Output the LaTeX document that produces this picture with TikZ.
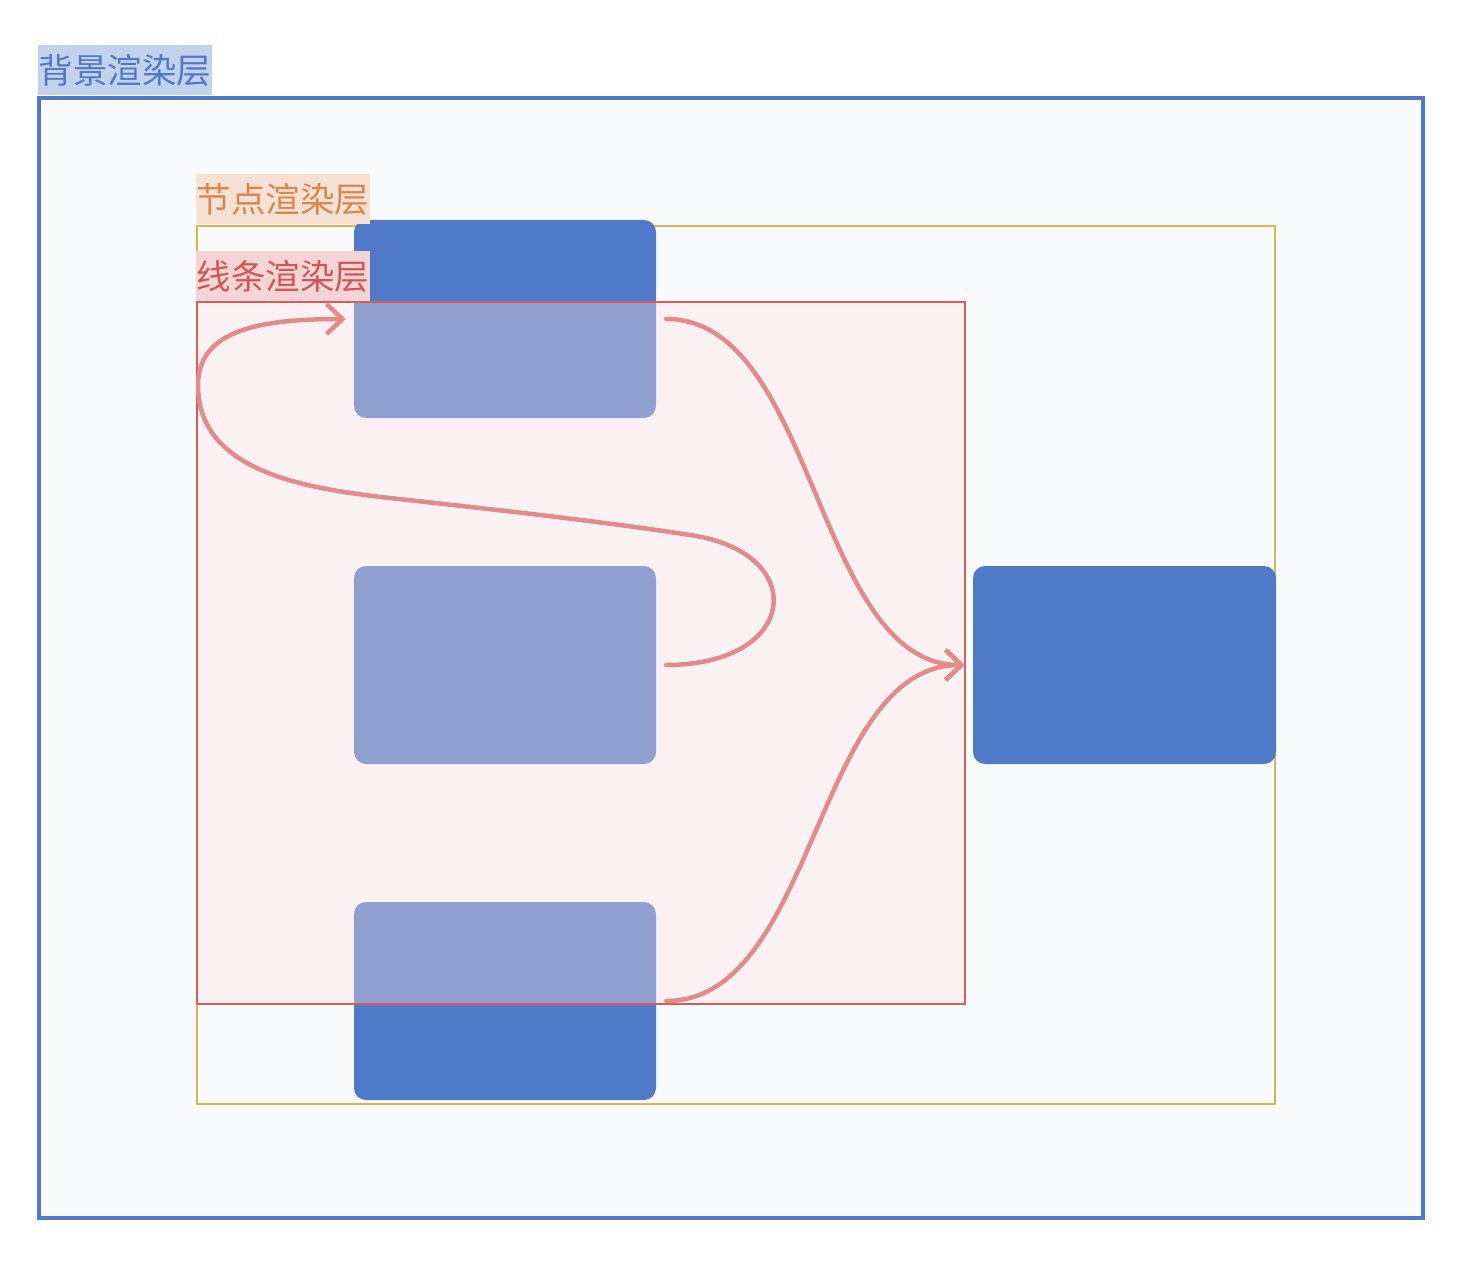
\documentclass[tikz,border=0pt]{standalone}
\usepackage{fontspec}
\newfontfamily\cjk{Noto Sans CJK SC}
\usetikzlibrary{arrows.meta,calc}
\definecolor{nblue}{RGB}{80,121,199}
\definecolor{bgfill}{RGB}{249,250,252}
\definecolor{bluelab}{RGB}{195,210,236}
\definecolor{yel}{RGB}{214,182,86}
\definecolor{orlab}{RGB}{244,225,211}
\definecolor{ortext}{RGB}{217,135,75}
\definecolor{redline}{RGB}{217,91,91}
\definecolor{redlab}{RGB}{244,213,214}
\definecolor{redtext}{RGB}{212,85,85}
\definecolor{redover}{RGB}{255,228,228}
\definecolor{curve}{RGB}{227,138,138}
\tikzset{
  blk/.style={fill=nblue, draw=none, rounded corners=12pt, minimum width=302pt, minimum height=198pt, inner sep=0pt},
  lab/.style={anchor=north west, inner sep=0pt, minimum width=174pt, minimum height=50pt, font=\cjk\fontsize{34.5}{34.5}\selectfont},
  flow/.style={draw=curve, line width=4.5pt, line cap=round, line join=round, -{Straight Barb[length=16pt,width=30pt,line width=4.5pt]}}
}
\begin{document}
\begin{tikzpicture}[x=1pt,y=-1pt]
\useasboundingbox (0,0) rectangle (1470,1268);
% background layer
\draw[nblue, line width=4.5pt, fill=bgfill] (39,98) rectangle (1423,1218);
\node[lab, fill=bluelab, text=nblue] (lbg) at (38,45) {背景渲染层};
% node layer
\draw[yel, line width=2.5pt] (197,226) rectangle (1275,1104);
\node[blk] (n1) at (505,319) {};
\node[blk] (n2) at (505,665) {};
\node[blk] (n3) at (505,1001) {};
\node[blk, minimum width=303pt] (n4) at (1124.5,665) {};
\node[lab, fill=orlab, text=ortext] (lnode) at (196,174) {节点渲染层};
% line layer
\fill[redover, fill opacity=0.37] (197,302) rectangle (965,1004);
\draw[redline, line width=2pt] (197,302) rectangle (965,1004);
\node[lab, fill=redlab, text=redtext] (lline) at (196,251) {线条渲染层};
% connectors
\draw[flow] ($(n1.east)+(10,0)$) .. controls +(150,0) and +(-150,0) .. ($(n4.west)+(-8,0)$);
\draw[flow] ($(n3.east)+(10,0)$) .. controls +(150,0) and +(-150,0) .. ($(n4.west)+(-8,0)$);
\draw[flow] ($(n2.east)+(10,0)$) .. controls +(134,0) and (810,552) .. (690,535)
  .. controls (600,521) and (480,508) .. (390,498)
  .. controls (300,488) and (198,470) .. (198,385)
  .. controls (198,330) and (260,319) .. ($(n1.west)+(-8,0)$);
\end{tikzpicture}
\end{document}
